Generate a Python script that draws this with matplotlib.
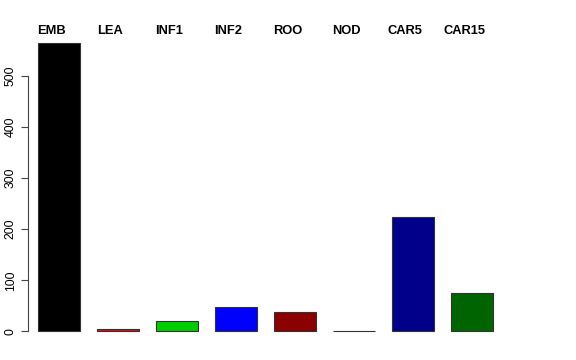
import matplotlib
matplotlib.use("Agg")
import matplotlib.pyplot as plt

plt.rcParams["font.family"] = ["Liberation Sans", "DejaVu Sans"]

categories = ["EMB", "LEA", "INF1", "INF2", "ROO", "NOD", "CAR5", "CAR15"]
values = [565, 5, 20, 48, 38, 1, 223, 76]
colors = ["#000000", "#FF0000", "#00CD00", "#0000FF", "#8B0000",
          "#A020F0", "#00008B", "#006400"]
y_ticks = [0, 100, 200, 300, 400, 500]

fig = plt.figure(figsize=(5.76, 3.6), dpi=100)
ax = fig.add_axes([28 / 576, 17 / 360, 483 / 576, 312 / 360])

pos = list(range(len(categories)))
ax.bar(pos, values, width=0.71, color=colors, edgecolor="#333333",
       linewidth=0.8)

ax.set_xlim(-0.525, 7.66)
ax.set_ylim(-22.6, 587.6)

for side in ["top", "right", "bottom"]:
    ax.spines[side].set_visible(False)
ax.spines["left"].set_bounds(0, 500)
ax.spines["left"].set_color("#444444")
ax.set_xticks([])
ax.set_yticks(y_ticks)
ax.set_yticklabels([str(t) for t in y_ticks], rotation=90, va="center",
                   fontsize=8.8)
ax.tick_params(axis="y", length=5, color="#444444", pad=3)

for p, name in zip(pos, categories):
    ax.text(p - 0.13, 1.0, name, transform=ax.get_xaxis_transform(),
            ha="center", va="center", fontsize=9.3, fontweight="bold")

fig.savefig("out.png", dpi=100)
